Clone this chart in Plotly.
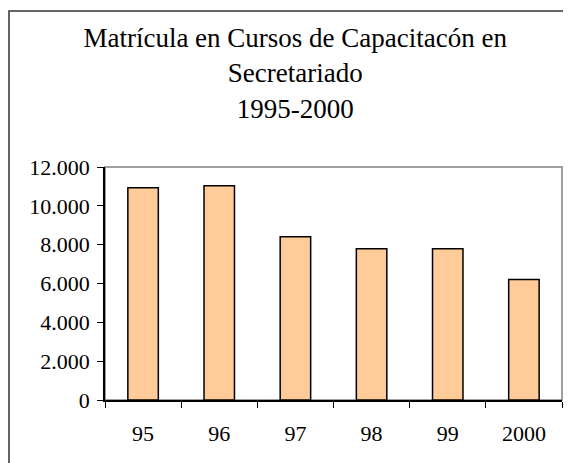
import plotly.graph_objects as go

# Matricula en cursos de secretariado, 1995-2000
years = ["95", "96", "97", "98", "99", "2000"]
matricula = [10930, 11030, 8410, 7790, 7790, 6210]

title_lines = ["Matrícula en Cursos de Capacitacón en", "Secretariado", "1995-2000"]

serif = "'Liberation Serif', 'DejaVu Serif', serif"

fig = go.Figure()
fig.add_trace(go.Bar(
    x=years, y=matricula,
    marker=dict(color="#FFCC99", line=dict(color="black", width=1.5)),
))

# gray frame around the plot area (top and right show)
fig.add_shape(type="rect", xref="paper", yref="paper", x0=0, y0=0, x1=1, y1=1,
              line=dict(color="#808080", width=1.5), layer="below")
# outer chart border
fig.add_shape(type="rect", xref="paper", yref="paper", x0=-0.2101, y0=-0.5, x1=1.05, y1=1.6695,
              line=dict(color="#333333", width=1.5))

fig.update_layout(
    width=571, height=463,
    margin=dict(l=97, r=17, t=159, b=71),
    paper_bgcolor="white", plot_bgcolor="white",
    showlegend=False,
    bargap=0.6,
    separators=",.",
    font=dict(family=serif, size=21, color="black"),
    title=dict(text="<br>".join(title_lines), x=0.503, xanchor="center",
               y=0.915, yanchor="top",
               font=dict(family=serif, size=27, color="black")),
)
fig.update_xaxes(type="category", showline=True, linecolor="black", linewidth=1.5,
                 ticks="outside", tickson="boundaries", ticklen=6, tickcolor="black",
                 tickfont=dict(family=serif, size=22, color="black"), ticklabelstandoff=13,
                 showgrid=False, zeroline=False)
fig.update_yaxes(range=[0, 12000], dtick=2000, tickformat=",d", showline=True,
                 linecolor="black", linewidth=1.5, ticks="outside", ticklen=6,
                 tickcolor="black", tickfont=dict(family=serif, size=22, color="black"),
                 ticklabelstandoff=3, showgrid=False, zeroline=False)

fig.write_html("out.html")
